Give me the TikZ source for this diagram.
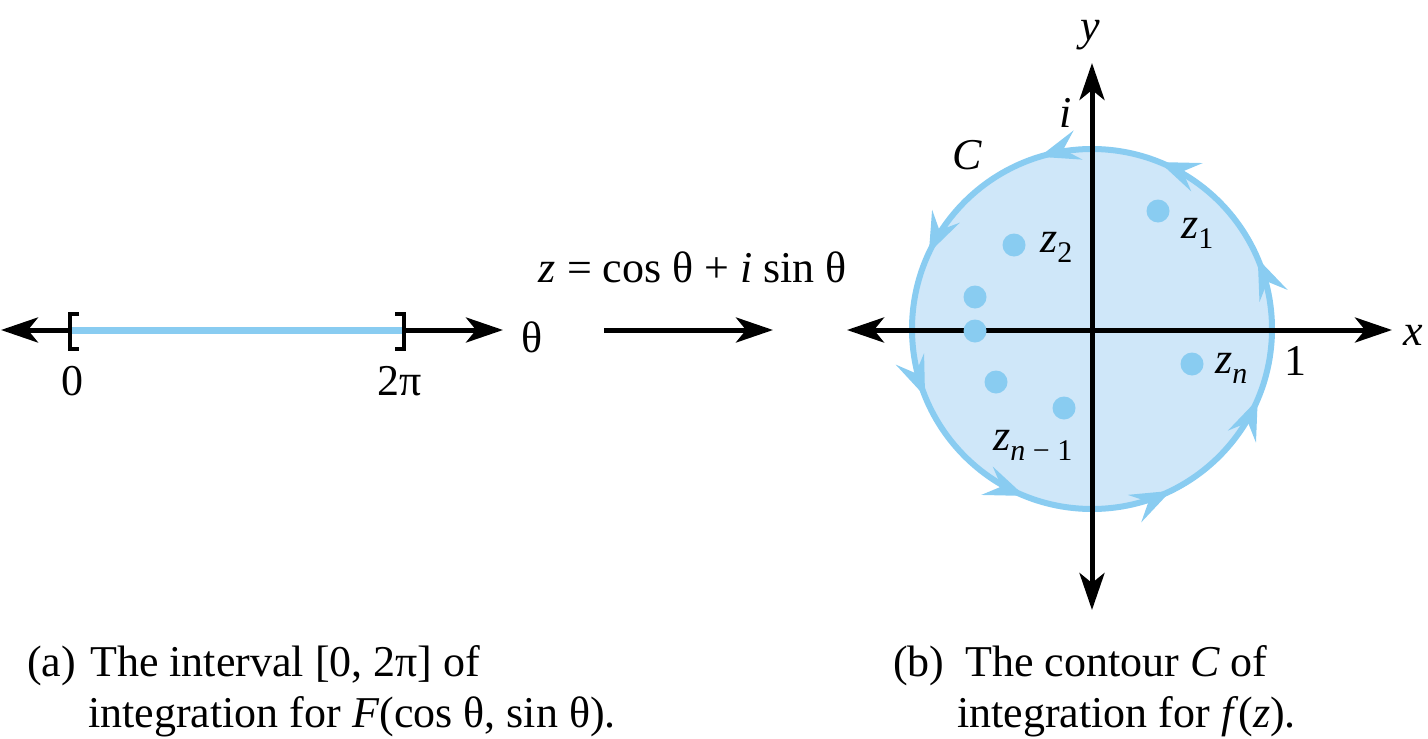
\documentclass[tikz,border=0pt]{standalone}
\usepackage{fontspec}
\setmainfont{Liberation Serif}
\usetikzlibrary{arrows.meta,decorations.markings}
\definecolor{cstroke}{RGB}{137,204,241}
\definecolor{cfill}{RGB}{207,231,249}
\newcommand\zsub[1]{\raisebox{-10pt}{\fontsize{30}{30}\selectfont #1}}
\begin{document}
\begin{tikzpicture}[x=1pt,y=-1pt,
  lbl/.style={inner sep=0pt, anchor=base, font=\fontsize{44}{48}\selectfont},
  lblw/.style={lbl, anchor=base west},
  tipk/.tip={Stealth[length=37pt,width=25pt,inset=10pt]},
  axis/.style={line width=5pt, -tipk},
  dblaxis/.style={line width=5pt, tipk-tipk},
  bracket/.style={line width=3.5pt},
  ctip/.tip={Stealth[length=40pt,width=30pt,inset=15pt,color=cstroke]},
  pt/.style={circle, fill=cstroke, inner sep=0pt, minimum size=23pt},
  contour/.style={cstroke, line width=6pt, postaction={decorate},
    decoration={markings,
      mark=at position 23/360 with {\arrow{ctip}},
      mark=at position 68/360 with {\arrow{ctip}},
      mark=at position 107/360 with {\arrow{ctip}},
      mark=at position 155/360 with {\arrow{ctip}},
      mark=at position 202/360 with {\arrow{ctip}},
      mark=at position 248/360 with {\arrow{ctip}},
      mark=at position 296/360 with {\arrow{ctip}},
      mark=at position 337/360 with {\arrow{ctip}}}}]
\useasboundingbox (0,0) rectangle (1428,739);

% (a) interval
\coordinate (Lt) at (1,330);
\coordinate (Lb) at (70,330);
\coordinate (Rb) at (404,330);
\coordinate (Rt) at (503,330);
\draw[axis] (Lb) -- (Lt);
\draw[axis] (Rb) -- (Rt);
\draw[cstroke, line width=7pt] (Lb) -- (Rb);
\draw[bracket] (79,314) -- (Lb |- 0,314) -- (Lb |- 0,349) -- (79,349);
\draw[bracket] (395,314) -- (Rb |- 0,314) -- (Rb |- 0,349) -- (395,349);
\node[lbl] (zero) at (72,395) {0};
\node[lbl] (twopi) at (400,395) {2π};
\node[lbl] (theta) at (532,352) {θ};

% mapping
\node[lbl] (map) at (693,282) {\textit{z} = cos θ + \textit{i} sin θ};
\coordinate (ma) at (604,330);
\coordinate (mb) at (773,330);
\draw[axis] (ma) -- (mb);

% (b) contour
\coordinate (O) at (1092,329);
\fill[cfill] (O) circle[radius=180];
\draw[contour] (O) ++(180,0) arc[start angle=0, end angle=-360, radius=180];
\coordinate (xl) at (847,330);
\coordinate (xr) at (1392,330);
\coordinate (yt) at (1092,63);
\coordinate (yb) at (1092,610);
\draw[dblaxis] (xl) -- (xr);
\draw[dblaxis] (yb) -- (yt);

\node[pt] (p1) at (1158,211) {};
\node[pt] (p2) at (1014,245) {};
\node[pt] (p3) at (975,297) {};
\node[pt] (p4) at (975,331) {};
\node[pt] (p5) at (996,382) {};
\node[pt] (p6) at (1064,408) {};
\node[pt] (pn) at (1192,364) {};

\node[lblw] (z1) at (1181,238) {\textit{z}\zsub{1}};
\node[lblw] (z2) at (1040,252) {\textit{z}\zsub{2}};
\node[lblw] (zn) at (1215,373) {\textit{z}\zsub{\textit{n}}};
\node[lblw] (znm) at (993,450) {\textit{z}\zsub{\textit{n} − 1}};
\node[lbl] (C) at (967,169) {\textit{C}};
\node[lbl] (one) at (1295,375) {1};
\node[lbl] (xlab) at (1413,345) {\textit{x}};
\node[lbl] (ylab) at (1090,40) {\textit{y}};
\node[lbl] (ilab) at (1066,127) {\textit{i}};

% captions
\node[lblw] (capa) at (27,676) {(a)};
\node[lblw] (capa1) at (90,676) {The interval [0, 2π] of};
\node[lblw] (capa2) at (88,727) {integration for \textit{F}(cos θ, sin θ).};
\node[lblw] (capb) at (893,676) {(b)};
\node[lblw] (capb1) at (965,676) {The contour \textit{C} of};
\node[lblw] (capb2) at (957,727) {integration for \textit{f}(\textit{z}).};
\end{tikzpicture}
\end{document}
